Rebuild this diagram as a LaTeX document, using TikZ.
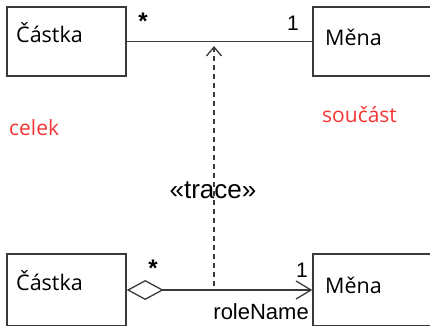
\documentclass[tikz,border=0pt]{standalone}
\usepackage{fontspec}
\setmainfont{Open Sans}
\newfontfamily\arialfont{Liberation Sans}
\usepackage{tikz}
\usetikzlibrary{calc,arrows.meta}
\definecolor{edge}{HTML}{3A3A3A}
\definecolor{note}{HTML}{F53535}
\tikzset{
  cls/.style={draw=edge, line width=1.4pt, rectangle, inner sep=0pt},
  clsname/.style={anchor=base west, inner sep=0pt, font=\fontsize{21.5}{25}\selectfont},
  mult/.style={anchor=base, inner sep=0pt, font=\arialfont\fontsize{21}{24}\selectfont},
  star/.style={anchor=base, inner sep=0pt, font=\arialfont\bfseries\fontsize{24}{28}\selectfont},
  notelab/.style={anchor=base west, inner sep=0pt, text=note, font=\fontsize{21}{25}\selectfont},
  stereo/.style={anchor=base, inner sep=0pt, font=\arialfont\fontsize{26}{30}\selectfont},
  rolelab/.style={anchor=base east, inner sep=0pt, font=\arialfont\fontsize{22}{26}\selectfont},
  assoc/.style={draw=edge, line width=1.3pt},
  aggr/.style={draw=edge, line width=1.3pt,
    {Diamond[open,length=37pt,width=20pt]}-{Straight Barb[length=15pt,width=18pt]}},
  trace/.style={draw=edge, line width=1.3pt, dash pattern=on 5pt off 4pt,
    -{Straight Barb[length=9pt,width=15pt]}}
}

\begin{document}
\begin{tikzpicture}[x=1pt,y=-1pt]
  \useasboundingbox (0,0) rectangle (430,325);
  \clip (0,0) rectangle (430,325);

  % classes
  \node[cls, minimum width=119pt, minimum height=69pt] (partA) at (66.5,41.5) {};
  \node[cls, minimum width=140pt, minimum height=69pt] (curA) at (383,41.5) {};
  \node[cls, minimum width=119pt, minimum height=72pt] (partB) at (66.5,290) {};
  \node[cls, minimum width=140pt, minimum height=72pt] (curB) at (383,290) {};

  \node[clsname] (partAname) at (16,42) {Částka};
  \node[clsname] (curAname) at (325,45) {Měna};
  \node[clsname] (partBname) at (16,290) {Částka};
  \node[clsname] (curBname) at (325,293) {Měna};

  % associations
  \draw[assoc] (partA.east) -- (curA.west);
  \draw[aggr] (partB.east) -- (curB.west);

  \node[star] (multAs) at (143,29) {*};
  \node[mult] (multAo) at (293,30) {1};
  \node[star] (multBs) at (153,276) {*};
  \node[mult] (multBo) at (302,277) {1};
  \node[rolelab] (role) at (309,319) {roleName};

  % trace dependency
  \coordinate (traceS) at (214,286);
  \coordinate (traceT) at (214,46);
  \draw[trace] (traceS) -- (traceT);
  \node[stereo] (traceLbl) at (213,198) {«trace»};

  \node[notelab] (whole) at (9,135) {celek};
  \node[notelab] (part) at (322,122) {součást};
\end{tikzpicture}
\end{document}
